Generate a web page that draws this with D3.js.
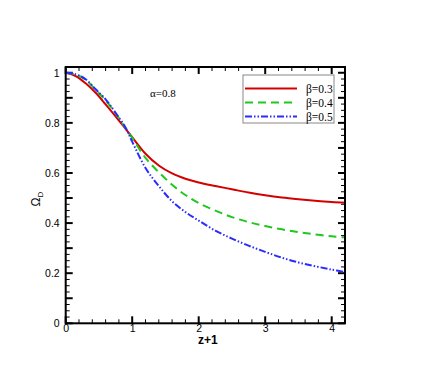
<!DOCTYPE html>
<html><head><meta charset="utf-8">
<script src="https://cdn.jsdelivr.net/npm/d3@7"></script>
<style>body{margin:0;background:#fff}svg{display:block}</style>
</head><body>
<script>
const xValues = [0, 0.15, 0.3, 0.45, 0.6, 0.75, 0.9, 1.0, 1.2, 1.4, 1.6, 1.8, 2.0, 2.25, 2.5, 2.75, 3.0, 3.25, 3.5, 3.75, 4.0, 4.2];
const beta03 = [1.0, 0.987, 0.958, 0.92, 0.874, 0.826, 0.776, 0.743, 0.677, 0.630, 0.598, 0.577, 0.562, 0.548, 0.535, 0.522, 0.511, 0.502, 0.495, 0.489, 0.484, 0.481];
const beta04 = [1.0, 0.993, 0.972, 0.932, 0.89, 0.838, 0.779, 0.74, 0.66, 0.603, 0.553, 0.512, 0.48, 0.45, 0.424, 0.404, 0.388, 0.375, 0.364, 0.355, 0.347, 0.343];
const beta05 = [1.0, 0.994, 0.974, 0.934, 0.894, 0.84, 0.781, 0.725, 0.62, 0.548, 0.487, 0.444, 0.41, 0.37, 0.338, 0.31, 0.285, 0.262, 0.243, 0.228, 0.214, 0.205];
const seriesNames = ["\u03b2=0.3", "\u03b2=0.4", "\u03b2=0.5"];
const xTicks = [0, 1, 2, 3, 4];
const yTicks = [0, 0.2, 0.4, 0.6, 0.8, 1];
const alphaLabel = "\u03b1=0.8";

const series = [
  {name: seriesNames[0], values: beta03, color: "#d40000", dash: null},
  {name: seriesNames[1], values: beta04, color: "#1ec81e", dash: "8,5"},
  {name: seriesNames[2], values: beta05, color: "#2b2bff", dash: "7,2,1.5,2,1.5,2"}
];

const W = 436, H = 388;
const L = 65.7, R = 345, T = 67, B = 323.3;
const x = d3.scaleLinear().domain([0, 4.2]).range([L, R]);
const y = d3.scaleLinear().domain([0, 1.023]).range([B, T]);

const svg = d3.select("body").append("svg").attr("width", W).attr("height", H);

// ticks (all four sides, inward)
const xMinor = d3.range(0, 4.21, 0.2).map(v => +v.toFixed(2));
const yMinor = d3.range(0, 1.021, 0.025).map(v => +v.toFixed(3));
const yMajor = d3.range(0, 1.01, 0.1).map(v => +v.toFixed(2));
const tk = svg.append("g").attr("stroke", "#000").attr("stroke-width", 1);
xMinor.forEach(v => {
  const major = Math.abs(v - Math.round(v)) < 1e-6;
  const len = major ? 7 : 4;
  const w = major ? 2 : 1;
  tk.append("line").attr("x1", x(v)).attr("x2", x(v)).attr("y1", B).attr("y2", B - len).attr("stroke-width", w);
  tk.append("line").attr("x1", x(v)).attr("x2", x(v)).attr("y1", T).attr("y2", T + len).attr("stroke-width", w);
});
yMinor.forEach(v => {
  const major = yMajor.some(m => Math.abs(m - v) < 1e-6);
  const len = major ? 7 : 4;
  const w = major ? 2 : 1;
  tk.append("line").attr("y1", y(v)).attr("y2", y(v)).attr("x1", L).attr("x2", L + len).attr("stroke-width", w);
  tk.append("line").attr("y1", y(v)).attr("y2", y(v)).attr("x1", R).attr("x2", R - len).attr("stroke-width", w);
});

// tick labels via axes
const xAxis = svg.append("g").attr("transform", `translate(0,${B})`)
  .call(d3.axisBottom(x).tickValues(xTicks).tickSize(0).tickPadding(1.5).tickFormat(d3.format("d")));
const yAxis = svg.append("g").attr("transform", `translate(${L},0)`)
  .call(d3.axisLeft(y).tickValues(yTicks).tickSize(0).tickPadding(6).tickFormat(d => d === 0 || d === 1 ? d3.format("d")(d) : d3.format(".1f")(d)));
[xAxis, yAxis].forEach(a => {
  a.select(".domain").remove();
  a.selectAll("text").attr("font-family", "Liberation Sans, Arial, sans-serif").attr("font-size", 10.5).attr("fill", "#000");
});

// curves
svg.append("clipPath").attr("id", "clip").append("rect")
  .attr("x", L).attr("y", T).attr("width", R - L).attr("height", B - T);
const line = d3.line().x((d, i) => x(xValues[i])).y(d => y(d)).curve(d3.curveCatmullRom.alpha(0.5));
series.forEach(s => {
  svg.append("path").attr("d", line(s.values)).attr("fill", "none")
    .attr("stroke", s.color).attr("stroke-width", 2)
    .attr("stroke-dasharray", s.dash).attr("clip-path", "url(#clip)");
});

// frame
svg.append("rect").attr("x", L).attr("y", T).attr("width", R - L).attr("height", B - T)
  .attr("fill", "none").attr("stroke", "#000").attr("stroke-width", 2);

// alpha label
svg.append("text").attr("x", 150).attr("y", 97).text(alphaLabel)
  .attr("font-family", "Liberation Serif, Times New Roman, serif").attr("font-size", 11);

// legend
const lg = svg.append("g");
lg.append("rect").attr("x", 243).attr("y", 75).attr("width", 91).attr("height", 48)
  .attr("fill", "#fff").attr("stroke", "#888").attr("stroke-width", 1);
series.forEach((s, i) => {
  const yy = 88.5 + i * 14;
  lg.append("line").attr("x1", 245).attr("x2", 297).attr("y1", yy).attr("y2", yy)
    .attr("stroke", s.color).attr("stroke-width", 2).attr("stroke-dasharray", s.dash);
  lg.append("text").attr("x", 306).attr("y", yy + 4).text(s.name)
    .attr("font-family", "Liberation Serif, Times New Roman, serif").attr("font-size", 11.5);
});

// axis titles
svg.append("text").attr("x", (L + R) / 2 + 2.5).attr("y", 344).attr("text-anchor", "middle")
  .attr("font-family", "Liberation Sans, Arial, sans-serif").attr("font-weight", "bold").attr("font-size", 12)
  .text("z+1");
const yl = svg.append("text").attr("transform", "translate(40,199) rotate(-90)").attr("text-anchor", "middle")
  .attr("font-family", "Liberation Sans, Arial, sans-serif").attr("font-size", 12);
yl.append("tspan").text("\u03a9");
yl.append("tspan").attr("dy", 3).attr("font-size", 8).text("D");
</script>
</body></html>
